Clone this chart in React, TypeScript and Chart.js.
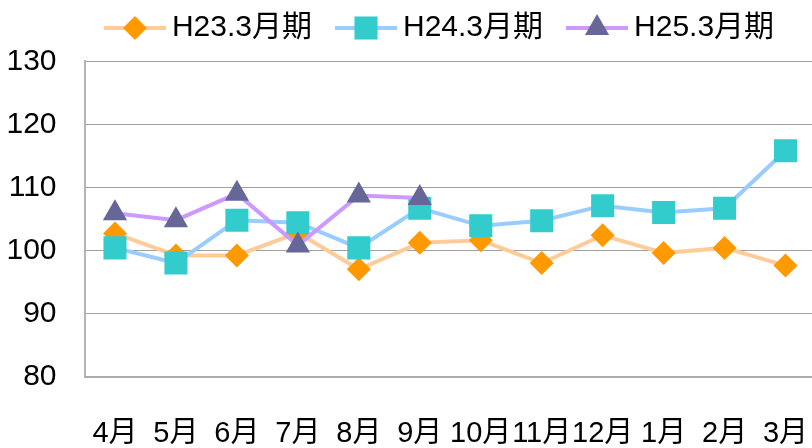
import React, { useEffect, useRef } from 'react';
import { Chart, registerables } from 'chart.js';
import { drawPoint } from 'chart.js/helpers';

Chart.register(...registerables);

const CATEGORIES = ['4月', '5月', '6月', '7月', '8月', '9月', '10月', '11月', '12月', '1月', '2月', '3月'];
const SERIES_NAMES = ['H23.3月期', 'H24.3月期', 'H25.3月期'];
const H23 = [102.7, 99.2, 99.2, 102.8, 97.0, 101.2, 101.6, 98.0, 102.4, 99.6, 100.4, 97.6];
const H24 = [100.4, 98.0, 104.8, 104.4, 100.4, 106.7, 103.9, 104.7, 107.1, 106.0, 106.7, 115.8];
const H25 = [105.9, 104.8, 109.0, 100.8, 108.7, 108.3, null, null, null, null, null, null];
const Y_TICKS = [80, 90, 100, 110, 120, 130];

const LINE_COLORS = ['#FFCC99', '#99CCFF', '#CC99FF'];
const MARKER_COLORS = ['#FF9900', '#33CCCC', '#666699'];
const MARKER_STYLES = ['rectRot', 'rect', 'triangle'];
const MARKER_RADII = [12, 16.3, 14];

const FONT = "'Liberation Sans', 'Noto Sans CJK JP', sans-serif";

function makeLegendIcon(i: number) {
  const c = document.createElement('canvas');
  c.width = 81;
  c.height = 30;
  const ctx = c.getContext('2d')!;
  ctx.strokeStyle = LINE_COLORS[i];
  ctx.lineWidth = 4;
  ctx.beginPath();
  ctx.moveTo(19, 15);
  ctx.lineTo(81, 15);
  ctx.stroke();
  ctx.fillStyle = MARKER_COLORS[i];
  drawPoint(ctx, { pointStyle: MARKER_STYLES[i] as any, radius: MARKER_RADII[i], rotation: 0, borderWidth: 0 }, 50, 15);
  return c;
}

const legendShift = {
  id: 'legendShift',
  afterLayout(chart: any) {
    if (chart.legend) chart.legend.left = 52;
  },
};

export default function App() {
  const ref = useRef<HTMLCanvasElement>(null);

  useEffect(() => {
    if (!ref.current) return;
    const seriesData = [H23, H24, H25];
    const icons = SERIES_NAMES.map((_, i) => makeLegendIcon(i));
    const chart = new Chart(ref.current, {
      type: 'line',
      data: {
        labels: CATEGORIES,
        datasets: SERIES_NAMES.map((name, i) => ({
          label: name,
          data: seriesData[i],
          borderColor: LINE_COLORS[i],
          backgroundColor: MARKER_COLORS[i],
          borderWidth: 4,
          tension: 0,
          fill: false,
          pointStyle: MARKER_STYLES[i] as any,
          pointRadius: MARKER_RADII[i],
          pointBackgroundColor: MARKER_COLORS[i],
          pointBorderWidth: 0,
          order: 3 - i,
        })),
      },
      plugins: [legendShift],
      options: {
        responsive: false,
        animation: false,
        devicePixelRatio: 1,
        events: [],
        layout: { padding: 0, autoPadding: false },
        plugins: {
          tooltip: { enabled: false },
          title: {
            display: true,
            text: '',
            weight: 500,
            font: { size: 1, lineHeight: 1 },
            padding: { top: 0, bottom: 7.3 },
          },
          legend: {
            position: 'top',
            labels: {
              usePointStyle: true,
              pointStyleWidth: 63,
              padding: 13,
              color: '#000',
              font: { family: FONT, size: 30 },
              generateLabels: () =>
                SERIES_NAMES.map((name, i) => ({
                  text: name,
                  datasetIndex: i,
                  pointStyle: icons[i] as any,
                  fillStyle: MARKER_COLORS[i],
                  strokeStyle: LINE_COLORS[i],
                  lineWidth: 0,
                  hidden: false,
                  fontColor: '#000',
                })),
            },
          },
        },
        scales: {
          x: {
            type: 'category',
            offset: true,
            grid: { display: false, drawTicks: false },
            border: { display: true, color: '#ABABAB', width: 2 },
            afterFit: (s: any) => {
              s.height = 71.5;
            },
            ticks: {
              autoSkip: false,
              maxRotation: 0,
              minRotation: 0,
              padding: 0,
              color: '#000',
              font: { family: FONT, size: 29, lineHeight: 3.96 },
            },
          },
          y: {
            min: Y_TICKS[0],
            max: Y_TICKS[Y_TICKS.length - 1],
            grid: { color: '#A0A0A0', lineWidth: 1, drawTicks: false },
            border: { display: true, color: '#B4B4B4', width: 2 },
            afterFit: (s: any) => {
              s.width = 84.5;
            },
            afterBuildTicks: (s: any) => {
              s.ticks = Y_TICKS.map((v) => ({ value: v }));
            },
            ticks: {
              padding: 28,
              color: '#000',
              font: { family: FONT, size: 30 },
            },
          },
        },
      },
    });
    return () => chart.destroy();
  }, []);

  return (
    <div style={{ position: 'absolute', left: 0, top: 0, width: 812, height: 448, overflow: 'hidden', background: '#fff' }}>
      <canvas ref={ref} width={816} height={448} style={{ display: 'block', width: '816px', height: '448px' }} />
    </div>
  );
}
